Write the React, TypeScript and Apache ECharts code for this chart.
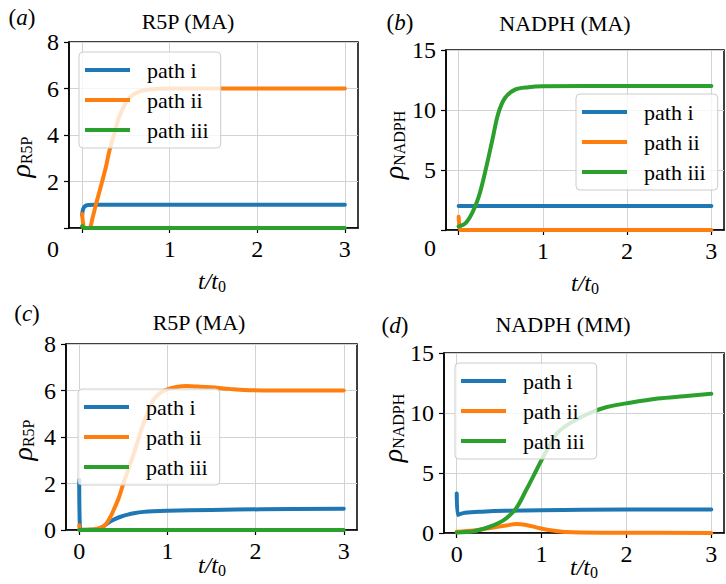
import React, { useEffect, useRef } from 'react';
import * as echarts from 'echarts';

// ---------------- data ----------------
const SERIES_NAMES = ['path i', 'path ii', 'path iii'];
const TITLES = ['R5P (MA)', 'NADPH (MA)', 'R5P (MA)', 'NADPH (MM)'];
const PANEL_LETTERS = ['a', 'b', 'c', 'd'];
const Y_SUBSCRIPTS = ['R5P', 'NADPH', 'R5P', 'NADPH'];
const Y_MAX = [8, 15, 8, 15];
const Y_STEP = [2, 5, 2, 5];
const X_TICKS = [0, 1, 2, 3];
const X_MIN = -0.15;
const X_MAX = 3.15;

// (a) R5P (MA)
const A_PATH_I = [[0, 0.55], [0.01, 0.8], [0.03, 0.93], [0.07, 0.99], [0.15, 1.0], [0.5, 1.0], [1, 1.0], [2, 1.0], [3, 1.0]];
const A_PATH_II = [[0, 0.6], [0.015, 0.1], [0.03, 0.0], [0.08, 0.0], [0.12, 0.45], [0.16, 1.05], [0.2, 1.6], [0.27, 2.6], [0.31, 3.3], [0.37, 4.1], [0.42, 4.75], [0.5, 5.4], [0.57, 5.7], [0.66, 5.88], [0.76, 5.96], [1, 6.0], [2, 6.0], [3, 6.0]];
const A_PATH_III = [[0, 0.08], [0.02, 0.0], [1, 0.0], [3, 0.0]];

// (b) NADPH (MA)
const B_PATH_I = [[0, 2.0], [1, 2.0], [2, 2.0], [3, 2.0]];
const B_PATH_II = [[0, 1.1], [0.015, 0.1], [0.03, 0.0], [1, 0.0], [3, 0.0]];
const B_PATH_III = [[0, 0.3], [0.08, 0.55], [0.16, 1.4], [0.24, 2.8], [0.32, 5.0], [0.4, 7.5], [0.47, 9.7], [0.55, 11.0], [0.67, 11.7], [0.83, 11.9], [1, 11.97], [2, 12.0], [3, 12.0]];

// (c) R5P (MA)
const C_PATH_I = [[0, 2.15], [0.008, 0.1], [0.03, 0.01], [0.15, 0.01], [0.2, 0.02], [0.24, 0.07], [0.29, 0.2], [0.35, 0.36], [0.41, 0.48], [0.47, 0.57], [0.55, 0.66], [0.62, 0.72], [0.73, 0.78], [0.84, 0.81], [1, 0.83], [1.5, 0.86], [2.06, 0.89], [3, 0.91]];
const C_PATH_II = [[0, 0.2], [0.01, 0.03], [0.05, 0.0], [0.12, 0.02], [0.2, 0.06], [0.28, 0.17], [0.34, 0.47], [0.39, 0.86], [0.45, 1.4], [0.5, 2.0], [0.56, 2.65], [0.62, 3.3], [0.67, 3.9], [0.73, 4.6], [0.79, 5.15], [0.84, 5.6], [0.92, 5.9], [1.0, 6.05], [1.1, 6.15], [1.22, 6.19], [1.35, 6.17], [1.49, 6.14], [1.7, 6.07], [1.87, 6.02], [2.2, 6.0], [3, 6.0]];
const C_PATH_III = [[0, 0.0], [1, 0.0], [3, 0.0]];

// (d) NADPH (MM)
const D_PATH_I = [[0, 3.3], [0.012, 1.5], [0.03, 1.56], [0.1, 1.69], [0.3, 1.78], [0.58, 1.85], [1, 1.9], [2, 1.95], [3, 1.95]];
const D_PATH_II = [[0, 0.1], [0.2, 0.2], [0.38, 0.4], [0.58, 0.62], [0.7, 0.75], [0.82, 0.67], [0.98, 0.4], [1.17, 0.17], [1.37, 0.06], [2, 0.02], [3, 0.01]];
const D_PATH_III = [[0, 0.05], [0.2, 0.15], [0.38, 0.5], [0.5, 0.85], [0.58, 1.2], [0.7, 2.05], [0.82, 3.6], [0.94, 5.25], [1.06, 6.9], [1.17, 8.2], [1.27, 8.85], [1.37, 9.3], [1.57, 10.0], [1.77, 10.5], [2.0, 10.8], [2.37, 11.2], [2.68, 11.4], [3, 11.6]];

const PANEL_DATA = [
  [A_PATH_I, A_PATH_II, A_PATH_III],
  [B_PATH_I, B_PATH_II, B_PATH_III],
  [C_PATH_I, C_PATH_II, C_PATH_III],
  [D_PATH_I, D_PATH_II, D_PATH_III],
];

// ---------------- layout / style ----------------
const FONT = 'Liberation Serif';
const TICK_FONT = 24;
const COLORS = ['#1f77b4', '#ff7f0e', '#2ca02c'];
const GRIDS = [
  { left: 69, top: 42, width: 289, height: 186 },
  { left: 446, top: 50, width: 278, height: 180 },
  { left: 66, top: 344, width: 291, height: 186 },
  { left: 444, top: 353, width: 280, height: 180 },
];
const LEGEND_POS = [
  { left: 79, top: 52 },
  { left: 576, top: 94 },
  { left: 78, top: 389 },
  { left: 455, top: 363 },
];
const HIDE_ZERO = [true, true, false, false];
const ZERO_DROP = [42, 36, 0, 0];
const TITLE_POS = [[188, 21], [565, 23], [199, 322], [563, 324]];
const LETTER_POS = [[22, 17], [400, 22], [27, 313], [395, 325]];
const YNAME_POS = [[20, 157], [393, 145], [22, 440], [392, 428]];
const XNAME_POS = [[212, 281], [585, 283], [212, 565], [584, 567]];

function buildOption() {
  const grid: any[] = [];
  const xAxis: any[] = [];
  const yAxis: any[] = [];
  const series: any[] = [];
  const legend: any[] = [];
  const graphic: any[] = [];

  for (let p = 0; p < 4; p++) {
    grid.push({
      ...GRIDS[p],
      show: true,
      borderColor: '#000',
      borderWidth: 1.5,
      backgroundColor: 'transparent',
      containLabel: false,
    });
    const hide = HIDE_ZERO[p];
    xAxis.push({
      type: 'value',
      gridIndex: p,
      min: X_MIN,
      max: X_MAX,
      axisLine: { show: true, onZero: false, lineStyle: { color: '#000', width: 1.5 } },
      axisTick: { show: true, length: 5, customValues: X_TICKS, lineStyle: { color: '#000', width: 1.2 } },
      axisLabel: {
        customValues: X_TICKS,
        margin: 9,
        color: '#000',
        fontSize: TICK_FONT,
        fontFamily: FONT,
        formatter: (v: number) => (hide && v === 0 ? '' : String(v)),
      },
      splitLine: { show: true, lineStyle: { color: '#d3d3d3', width: 1 } },
    });
    const drop = ZERO_DROP[p];
    yAxis.push({
      type: 'value',
      gridIndex: p,
      min: 0,
      max: Y_MAX[p],
      interval: Y_STEP[p],
      axisLine: { show: true, onZero: false, lineStyle: { color: '#000', width: 1.5 } },
      axisTick: { show: true, length: 5, lineStyle: { color: '#000', width: 1.2 } },
      axisLabel: {
        margin: 10,
        color: '#000',
        fontSize: TICK_FONT,
        fontFamily: FONT,
        formatter: (v: number) => (drop && v === 0 ? '{lo|0}' : String(v)),
        rich: { lo: { fontSize: TICK_FONT, fontFamily: FONT, color: '#000', padding: [drop, 0, 0, 0] } },
      },
      splitLine: { show: true, lineStyle: { color: '#d3d3d3', width: 1 } },
    });
    for (let s = 0; s < 3; s++) {
      series.push({
        type: 'line',
        name: SERIES_NAMES[s],
        xAxisIndex: p,
        yAxisIndex: p,
        data: PANEL_DATA[p][s],
        showSymbol: false,
        symbol: 'none',
        smooth: 0.35,
        color: COLORS[s],
        lineStyle: { width: 4, color: COLORS[s], cap: 'round', join: 'round' },
        z: 2,
      });
    }
    legend.push({
      ...LEGEND_POS[p],
      orient: 'vertical',
      data: SERIES_NAMES,
      icon: 'rect',
      itemWidth: 45,
      itemHeight: 4,
      itemGap: 8,
      selectedMode: false,
      padding: [7, 12, 7, 6],
      backgroundColor: 'rgba(255,255,255,0.8)',
      borderColor: '#cccccc',
      borderWidth: 1,
      borderRadius: 4,
      textStyle: { fontSize: 22, lineHeight: 22, fontFamily: FONT, color: '#000', padding: [0, 0, 0, 12] },
    });

    graphic.push({
      type: 'text',
      x: TITLE_POS[p][0],
      y: TITLE_POS[p][1],
      style: { text: TITLES[p], fontSize: 22, fontFamily: FONT, fill: '#000', align: 'center', verticalAlign: 'middle' },
    });
    graphic.push({
      type: 'text',
      x: LETTER_POS[p][0],
      y: LETTER_POS[p][1],
      style: {
        text: `({i|${PANEL_LETTERS[p]}})`,
        fontSize: 23,
        fontFamily: FONT,
        fill: '#000',
        align: 'center',
        verticalAlign: 'middle',
        rich: { i: { fontSize: 23, fontFamily: FONT, fontStyle: 'italic' } },
      },
    });
    graphic.push({
      type: 'text',
      x: YNAME_POS[p][0],
      y: YNAME_POS[p][1],
      rotation: Math.PI / 2,
      style: {
        text: `{r|ρ}{s|${Y_SUBSCRIPTS[p]}}`,
        fill: '#000',
        fontFamily: FONT,
        align: 'center',
        verticalAlign: 'middle',
        rich: {
          r: { fontSize: 28, fontFamily: FONT, fontStyle: 'italic' },
          s: { fontSize: 16, fontFamily: FONT, padding: [12, 0, 0, 0] },
        },
      },
    });
    graphic.push({
      type: 'text',
      x: XNAME_POS[p][0],
      y: XNAME_POS[p][1],
      style: {
        text: '{i|t/t}{s|0}',
        fill: '#000',
        fontFamily: FONT,
        align: 'center',
        verticalAlign: 'middle',
        rich: {
          i: { fontSize: 24, fontFamily: FONT, fontStyle: 'italic' },
          s: { fontSize: 16, fontFamily: FONT, padding: [10, 0, 0, 0] },
        },
      },
    });
  }

  return {
    animation: false,
    backgroundColor: '#ffffff',
    textStyle: { fontFamily: FONT },
    grid,
    xAxis,
    yAxis,
    series,
    legend,
    graphic,
  };
}

export default function App() {
  const ref = useRef<HTMLDivElement>(null);
  useEffect(() => {
    if (!ref.current) return;
    const chart = echarts.init(ref.current, undefined, { renderer: 'svg' });
    chart.setOption(buildOption() as any);
    return () => chart.dispose();
  }, []);
  return (
    <div
      ref={ref}
      style={{ position: 'absolute', left: 0, top: 0, width: 726, height: 584, background: '#fff' }}
    />
  );
}
